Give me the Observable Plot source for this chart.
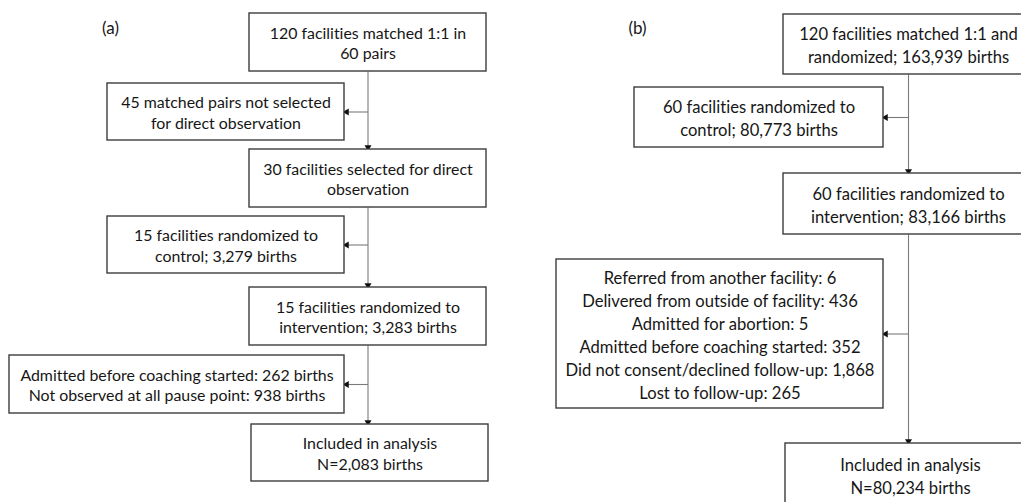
<!DOCTYPE html>
<html>
<head>
<meta charset="utf-8">
<script src="https://cdn.jsdelivr.net/npm/d3@7"></script>
<script src="https://cdn.jsdelivr.net/npm/@observablehq/plot@0.6"></script>
<style>
  html, body { margin: 0; padding: 0; background: #fff; }
  #chart svg { display: block; }
  #chart svg text { font-variant-ligatures: none; }
</style>
</head>
<body>
<div id="chart"></div>
<script>
// ---- Text content of the flowchart ----
const panelLabels = ["(a)", "(b)"];

const panelATexts = [
  "120 facilities matched 1:1 in\n60 pairs",
  "45 matched pairs not selected\nfor direct observation",
  "30 facilities selected for direct\nobservation",
  "15 facilities randomized to\ncontrol; 3,279 births",
  "15 facilities randomized to\nintervention; 3,283 births",
  "Admitted before coaching started: 262 births\nNot observed at all pause point: 938 births",
  "Included in analysis\nN=2,083 births"
];

const panelBTexts = [
  "120 facilities matched 1:1 and\nrandomized; 163,939 births",
  "60 facilities randomized to\ncontrol; 80,773 births",
  "60 facilities randomized to\nintervention; 83,166 births",
  "Referred from another facility: 6\nDelivered from outside of facility: 436\nAdmitted for abortion: 5\nAdmitted before coaching started: 352\nDid not consent/declined follow-up: 1,868\nLost to follow-up: 265",
  "Included in analysis\nN=80,234 births"
];

// ---- Layout (box extents in page units) ----
const panelALayout = [
  [249, 486, 13, 71],
  [107, 344, 83, 140],
  [249, 486, 149, 207],
  [107, 344, 216, 273],
  [249, 486, 287, 345],
  [9, 344, 355, 413],
  [251, 488, 424, 481]
];
const panelBLayout = [
  [783, 1033, 14, 74],
  [634, 883, 87, 147],
  [783, 1033, 173, 234],
  [556, 883, 259, 408],
  [785, 1035, 443, 507]
];
const panelLabelPos = [[110, 28], [637, 28]];

// flow: [from, to, side]
const panelAFlow = [[0, 2, 1], [2, 4, 3], [4, 6, 5]];
const panelBFlow = [[0, 2, 1], [2, 4, 3]];

// ---- Build tables ----
function buildBoxes(texts, layout, panel) {
  return texts.map((t, i) => ({
    panel, text: t,
    x1: layout[i][0], x2: layout[i][1], y1: layout[i][2], y2: layout[i][3],
    cx: (layout[i][0] + layout[i][1]) / 2, cy: (layout[i][2] + layout[i][3]) / 2
  }));
}
const boxesA = buildBoxes(panelATexts, panelALayout, "a");
const boxesB = buildBoxes(panelBTexts, panelBLayout, "b");
const boxes = boxesA.concat(boxesB);

function buildLinks(bx, flow) {
  const segs = [], heads = [];
  for (const [f, t, s] of flow) {
    const src = bx[f], dst = bx[t], side = bx[s];
    const x = src.cx;
    segs.push({x1: x, y1: src.y2, x2: x, y2: dst.y1});
    heads.push({x: x, y: dst.y1 - 2.2, rot: 180});
    segs.push({x1: x, y1: side.cy, x2: side.x2, y2: side.cy});
    heads.push({x: side.x2 + 2.2, y: side.cy, rot: -90});
  }
  return {segs, heads};
}
const la = buildLinks(boxesA, panelAFlow);
const lb = buildLinks(boxesB, panelBFlow);
const segs = la.segs.concat(lb.segs);
const heads = la.heads.concat(lb.heads);
const labels = panelLabels.map((l, i) => ({label: l, x: panelLabelPos[i][0], y: panelLabelPos[i][1]}));

const W = 1021, H = 502;
const FONT = "Lato, 'Open Sans', sans-serif";

const chart = Plot.plot({
  width: W,
  height: H,
  margin: 0,
  x: {domain: [0, W], range: [0, W], axis: null},
  y: {domain: [0, H], range: [0, H], axis: null},
  style: {fontFamily: FONT, background: "#fff"},
  marks: [
    Plot.link(segs, {x1: "x1", y1: "y1", x2: "x2", y2: "y2", stroke: "#7a7a7a", strokeWidth: 1.1}),
    Plot.dot(heads, {x: "x", y: "y", symbol: "triangle", r: 2.6, rotate: "rot", fill: "#111", stroke: "none"}),
    Plot.rect(boxes, {x1: "x1", x2: "x2", y1: "y1", y2: "y2", fill: "white", stroke: "#3c3c3c", strokeWidth: 1.4}),
    Plot.text(boxesA, {x: "cx", y: "cy", text: "text", fontSize: 15.9, lineHeight: 1.3, fill: "#161616", lineAnchor: "middle"}),
    Plot.text(boxesB, {x: "cx", y: "cy", text: "text", fontSize: 16.6, lineHeight: 1.38, fill: "#161616", lineAnchor: "middle"}),
    Plot.text(labels, {x: "x", y: "y", text: "label", fontSize: 17, fill: "#161616"})
  ]
});
document.getElementById("chart").appendChild(chart);
</script>
</body>
</html>
